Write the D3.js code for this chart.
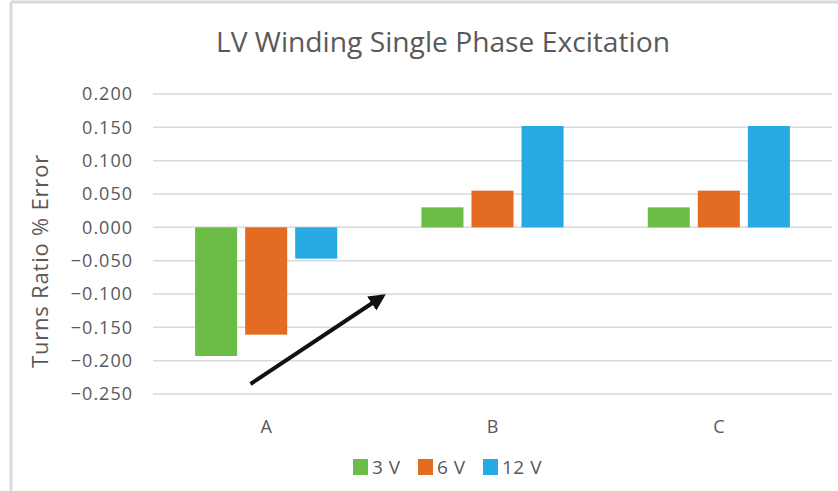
<!DOCTYPE html>
<html>
<head>
<meta charset="utf-8">
<script src="https://cdn.jsdelivr.net/npm/d3@7"></script>
<style>
  body { margin: 0; background: #fff; }
  text { font-family: "Open Sans", "Noto Sans", sans-serif; fill: #595959; }
</style>
</head>
<body>
<div id="chart"></div>
<script>
// Datos
const categories = ["A", "B", "C"];
const seriesNames = ["3 V", "6 V", "12 V"];
const v3 = [-0.193, 0.030, 0.030];
const v6 = [-0.161, 0.055, 0.055];
const v12 = [-0.047, 0.152, 0.152];
const yTicks = [0.2, 0.15, 0.1, 0.05, 0, -0.05, -0.1, -0.15, -0.2, -0.25];
const colors = ["#6cbd45", "#e46c22", "#27aae1"];

const W = 838, H = 491;
const plot = { left: 153, right: 832, top: 94, bottom: 394 };

const svg = d3.select("#chart").append("svg")
    .attr("width", W)
    .attr("height", H);

// marco
svg.append("line").attr("x1", 11).attr("x2", W).attr("y1", 2).attr("y2", 2)
    .attr("stroke", "#d6dbe1").attr("stroke-width", 3);
svg.append("line").attr("x1", 11).attr("x2", 11).attr("y1", 2).attr("y2", H)
    .attr("stroke", "#d6dbe1").attr("stroke-width", 3);

const y = d3.scaleLinear().domain([-0.25, 0.2]).range([plot.bottom, plot.top]);
const x = d3.scaleBand().domain(categories).range([plot.left, plot.right])
    .paddingInner(0.372).paddingOuter(0.186);
const xs = d3.scaleBand().domain(seriesNames).range([0, x.bandwidth()])
    .paddingInner(0.16);

// rejilla
svg.append("g").selectAll("line").data(yTicks).join("line")
    .attr("x1", plot.left).attr("x2", plot.right)
    .attr("y1", d => y(d)).attr("y2", d => y(d))
    .attr("stroke", "#d9d9d9").attr("stroke-width", 1.5);

// eje y
const yAxis = svg.append("g")
    .attr("transform", `translate(${plot.left - 20},0)`)
    .call(d3.axisLeft(y).tickValues(yTicks).tickFormat(d3.format(".3f")).tickSize(0).tickPadding(0));
yAxis.select(".domain").remove();
yAxis.selectAll("text").attr("font-size", 18).attr("fill", "#595959")
    .attr("letter-spacing", 1)
    .style("font-family", "'Open Sans', sans-serif");

// eje x
const xAxis = svg.append("g")
    .attr("transform", `translate(0,${plot.bottom})`)
    .call(d3.axisBottom(x).tickSize(0).tickPadding(26));
xAxis.select(".domain").remove();
xAxis.selectAll("text").attr("font-size", 18).attr("fill", "#595959")
    .style("font-family", "'Open Sans', sans-serif");

// barras
const series = [v3, v6, v12];
series.forEach((vals, si) => {
    svg.append("g").selectAll("rect").data(vals).join("rect")
        .attr("x", (d, i) => x(categories[i]) + xs(seriesNames[si]))
        .attr("width", xs.bandwidth())
        .attr("y", d => y(Math.max(0, d)))
        .attr("height", d => Math.abs(y(d) - y(0)))
        .attr("fill", colors[si]);
});

// flecha
const defs = svg.append("defs");
defs.append("marker").attr("id", "head")
    .attr("viewBox", "0 0 10 10").attr("refX", 8).attr("refY", 5)
    .attr("markerWidth", 4.2).attr("markerHeight", 4.2).attr("orient", "auto")
    .append("path").attr("d", "M0,0 L10,5 L0,10 z").attr("fill", "#111");
const ax0 = x("A") + x.bandwidth() * 0.39, ay0 = y(-0.235);
const ax1 = x("A") + x.step() * 0.83, ay1 = y(-0.103);
svg.append("line")
    .attr("x1", ax0).attr("y1", ay0).attr("x2", ax1).attr("y2", ay1)
    .attr("stroke", "#111").attr("stroke-width", 4)
    .attr("marker-end", "url(#head)");

// titulo
svg.append("text")
    .attr("x", 443).attr("y", 52)
    .attr("text-anchor", "middle")
    .attr("font-size", 27)
    .attr("textLength", 454).attr("lengthAdjust", "spacingAndGlyphs")
    .text("LV Winding Single Phase Excitation");

// etiqueta y
svg.append("text")
    .attr("transform", `translate(48,${(plot.top + plot.bottom) / 2 + 17}) rotate(-90)`)
    .attr("text-anchor", "middle")
    .attr("font-size", 22)
    .attr("letter-spacing", 0.8)
    .text("Turns Ratio % Error");

// leyenda
const legendX = [353, 418, 483];
const legend = svg.append("g").selectAll("g").data(seriesNames).join("g")
    .attr("transform", (d, i) => `translate(${legendX[i]},459)`);
legend.append("rect").attr("width", 15).attr("height", 16)
    .attr("fill", (d, i) => colors[i]);
legend.append("text").attr("x", 19).attr("y", 15)
    .attr("font-size", 19)
    .attr("letter-spacing", 0.5)
    .text(d => d);
</script>
</body>
</html>
